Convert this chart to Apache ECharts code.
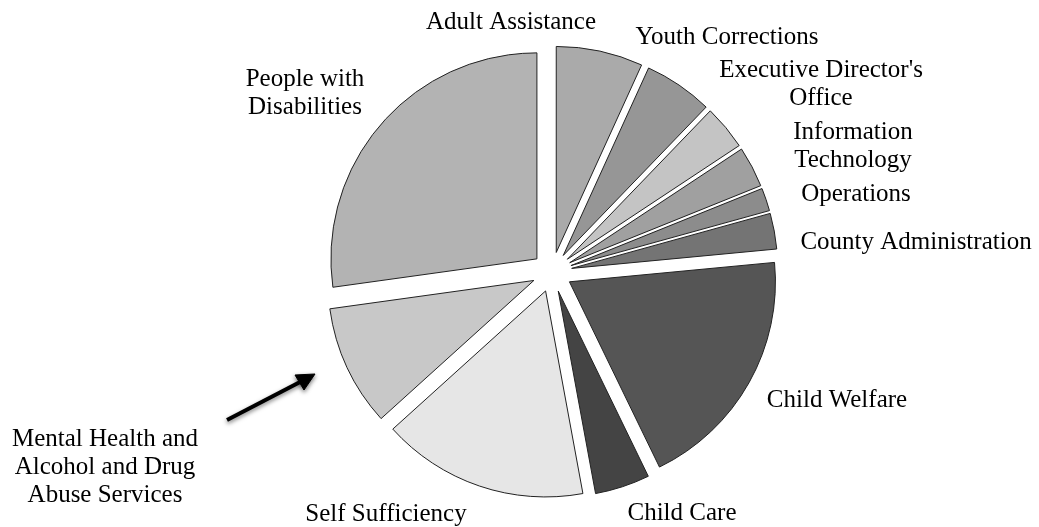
<!DOCTYPE html>
<html>
<head>
<meta charset="utf-8">
<script src="https://cdn.jsdelivr.net/npm/echarts@6/dist/echarts.min.js"></script>
<style>
html,body{margin:0;padding:0;background:#fff;}
#chart{width:1039px;height:527px;}
</style>
</head>
<body>
<div id="chart"></div>
<script>
// Data (percent share of budget), clockwise from 12 o'clock
const categories = [
  'Adult Assistance',
  'Youth Corrections',
  "Executive Director's\nOffice",
  'Information\nTechnology',
  'Operations',
  'County Administration',
  'Child Welfare',
  'Child Care',
  'Self Sufficiency',
  'Mental Health and\nAlcohol and Drug\nAbuse Services',
  'People with\nDisabilities'
];
const values = [6.8, 5.4, 3.5, 3.2, 1.8, 2.8, 19.3, 4.3, 16.2, 9.5, 27.2];
const colors = ['#aaaaaa', '#969696', '#c4c4c4', '#a0a0a0', '#8c8c8c', '#747474',
                '#555555', '#444444', '#e6e6e6', '#c8c8c8', '#b3b3b3'];
// label anchor positions (pixels)
const labelX = [511, 727, 821, 853, 856, 916, 837, 682, 386, 105, 305];
const labelY = [22, 37, 84, 146, 194, 242, 400, 513, 514, 467, 93];

const chart = echarts.init(document.getElementById('chart'), null, {renderer: 'canvas'});
const data = categories.map((c, i) => ({
  name: c,
  value: values[i],
  selected: true,
  itemStyle: {color: colors[i]}
}));

const labelGraphics = categories.map((c, i) => ({
  type: 'text',
  silent: true,
  x: labelX[i],
  y: labelY[i],
  style: {
    text: c,
    fontFamily: 'Liberation Serif',
    fontSize: 25,
    lineHeight: 28,
    fill: '#000',
    textAlign: 'center',
    textVerticalAlign: 'middle'
  }
}));

chart.setOption({
  animation: false,
  backgroundColor: '#ffffff',
  series: [{
    type: 'pie',
    center: [552, 272],
    radius: [0, 206],
    startAngle: 90,
    clockwise: true,
    selectedMode: 'multiple',
    selectedOffset: 20,
    data: data,
    itemStyle: {borderColor: '#222', borderWidth: 1},
    emphasis: {disabled: true},
    select: {itemStyle: {borderColor: '#222', borderWidth: 1}},
    label: {show: false},
    labelLine: {show: false}
  }],
  graphic: labelGraphics.concat([{
    type: 'group',
    silent: true,
    children: [
      {
        type: 'line',
        shape: {x1: 227, y1: 420, x2: 302, y2: 381},
        style: {stroke: '#000', lineWidth: 4, shadowBlur: 4, shadowColor: 'rgba(0,0,0,0.5)', shadowOffsetY: 2}
      },
      {
        type: 'polygon',
        shape: {points: [[315, 374], [295, 375], [304, 390]]},
        style: {fill: '#000', stroke: '#000', lineWidth: 1, shadowBlur: 4, shadowColor: 'rgba(0,0,0,0.5)', shadowOffsetY: 2}
      }
    ]
  }])
});
</script>
</body>
</html>
